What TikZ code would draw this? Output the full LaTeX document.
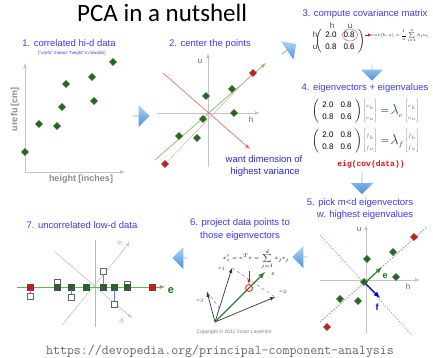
\documentclass[tikz,border=0pt]{standalone}
\usepackage{amsmath}
\usepackage{amssymb}
\usepackage{fontspec}
\setmainfont{Liberation Sans}
\newfontfamily\titlefont{Carlito}
\newfontfamily\codefont{Liberation Mono}
\usetikzlibrary{shapes.geometric,shapes.arrows}

\definecolor{lblblue}{RGB}{60,60,235}
\definecolor{darkblue}{RGB}{40,40,210}
\definecolor{ptgreen}{RGB}{25,110,25}
\definecolor{ptred}{RGB}{220,20,20}
\definecolor{axgray}{RGB}{195,195,195}
\definecolor{lightgreen}{RGB}{130,200,110}
\definecolor{lightred}{RGB}{235,110,110}
\definecolor{arrowlight}{RGB}{175,212,245}
\definecolor{arrowdark}{RGB}{75,145,220}

\tikzset{
  ttl/.style={text=lblblue, font=\fontsize{9.5}{11}\selectfont, inner sep=0pt},
  gdot/.style={shape=rectangle, rotate=45, draw=black!60, fill=ptgreen, minimum size=5pt, inner sep=0pt},
  rdot/.style={gdot, fill=ptred},
  gsq/.style={shape=rectangle, draw=black!70, fill=ptgreen, minimum size=5.5pt, inner sep=0pt},
  rsq/.style={gsq, fill=ptred},
  osq/.style={shape=rectangle, draw=black!60, fill=white, minimum size=5.5pt, inner sep=0pt},
  axis/.style={draw=axgray, line width=0.7pt, ->},
  axlbl/.style={text=black!60, font=\fontsize{8}{9}\selectfont, inner sep=0pt},
  bigarrow/.style={single arrow, draw=none, inner sep=0pt, minimum height=17pt, minimum width=22pt, single arrow head extend=5pt, top color=arrowlight, bottom color=arrowdark},
  mat/.style={font=\fontsize{8}{12}\selectfont\setlength{\arraycolsep}{3.5pt}, inner sep=0pt},
  vec/.style={font=\fontsize{4}{12}\selectfont, inner sep=0pt, text=black!60},
}

\begin{document}
\begin{tikzpicture}[x=1pt, y=-1pt, >=latex]
\useasboundingbox[fill=white] (0,0) rectangle (433,358);

\node[font=\titlefont\fontsize{25}{30}\selectfont, inner sep=0pt, anchor=base west] (title) at (77,22) {PCA in a nutshell};

% 1. correlated data
\node[ttl] (t1) at (69,43) {1. correlated hi-d data};
\node[text=lblblue, font=\fontsize{4.5}{5}\selectfont, inner sep=0pt] (t1b) at (72,53) {(``urefu'' means ``height'' in Swahili)};
\coordinate (o1) at (25,172);
\coordinate (y1) at (25,63);
\coordinate (x1) at (125,172);
\draw[axis] (o1) -- (y1);
\draw[axis] (o1) -- (x1);
\node[text=black!45, font=\bfseries\fontsize{9}{10}\selectfont, inner sep=0pt] (xl1) at (81,179) {height [inches]};
\node[text=black!45, font=\bfseries\fontsize{9}{10}\selectfont, inner sep=0pt, rotate=90] (yl1) at (15,109) {urefu [cm]};
\node[gdot] (a1) at (113,62) {};
\node[gdot] (a2) at (92,77) {};
\node[gdot] (a3) at (66,84) {};
\node[gdot] (a4) at (94,101) {};
\node[gdot] (a5) at (62,107) {};
\node[gdot] (a6) at (39,124) {};
\node[gdot] (a7) at (57,126) {};
\node[gdot] (a8) at (25,152) {};

\node[bigarrow] (ar12) at (141,116) {};

% 2. center the points
\node[ttl] (t2) at (210,44) {2. center the points};
\draw[axis] (208,167) -- (208,53);
\draw[axis] (157,113) -- (260,113);
\node[axlbl] (u2) at (200,61) {u};
\node[axlbl] (h2) at (251,120) {h};
\coordinate (g2a) at (155,160);
\coordinate (g2b) at (266,63);
\coordinate (r2a) at (163,73);
\coordinate (r2b) at (250,149);
\draw[lightgreen, line width=0.8pt, ->] (g2a) -- (g2b);
\draw[lightred, line width=0.7pt, ->] (r2a) -- (r2b);
\node[rdot] (b1) at (253,73) {};
\node[rdot] (b8) at (165,164) {};
\draw[lightred!60, line width=0.5pt] (b8) -- (b1);
\node[gdot] (b2) at (232,89) {};
\node[gdot] (b3) at (206,96) {};
\node[gdot] (b4) at (234,113) {};
\node[gdot] (b5) at (203,119) {};
\node[gdot] (b6) at (179,136) {};
\node[gdot] (b7) at (197,138) {};
\node[ttl, text=darkblue] (w1) at (264,159) {want dimension of};
\node[ttl, text=darkblue] (w2) at (265,172) {highest variance};

\node[bigarrow, rotate=35] (ar23) at (289,49) {};

% 3. covariance matrix
\node[ttl] (t3) at (365,14) {3. compute covariance matrix};
\node[mat] (cm) at (340,41) {$\left(\begin{array}{cc}\text{2.0}&\text{0.8}\\\text{0.8}&\text{0.6}\end{array}\right)$};
\node[axlbl, text=black!75] (ch) at (332,26) {h};
\node[axlbl, text=black!75] (cu) at (350,26) {u};
\node[axlbl, text=black!75] (rh) at (315,35) {h};
\node[axlbl, text=black!75] (ru) at (315,47) {u};
\node[shape=ellipse, draw=ptred!80, minimum width=15pt, minimum height=12pt, inner sep=0pt] (c08) at (350,35) {};
\node[anchor=west, inner sep=0pt, font=\fontsize{5}{6}\selectfont] (cov) at (372,36) {\scalebox{0.78}{$\displaystyle cov(h,u)=\frac{1}{n}\sum_{i=1}^{n}h_iu_i$}};
\draw[ptred, ->] (cm.east |- c08) -- (cov.west |- c08);

\node[bigarrow, rotate=-90] (ar34) at (372,72) {};

% 4. eigenvectors + eigenvalues
\node[ttl] (t4) at (365,88) {4. eigenvectors + eigenvalues};
\node[mat] (m1) at (337,111) {$\left(\begin{array}{cc}\text{2.0}&\text{0.8}\\\text{0.8}&\text{0.6}\end{array}\right)$};
\node[vec] (ev1) at (370,111) {$\left[\begin{array}{@{}c@{}}e_h\\e_u\end{array}\right]$};
\node[font=\fontsize{11}{11}\selectfont, inner sep=0pt] (eq1) at (385,111) {$=$};
\node[text=ptgreen, font=\fontsize{15}{15}\selectfont, inner sep=0pt] (le) at (397,111) {$\lambda_{\scriptscriptstyle e}$};
\node[vec] (ev2) at (412,111) {$\left[\begin{array}{@{}c@{}}e_h\\e_u\end{array}\right]$};
\node[mat] (m2) at (337,141) {$\left(\begin{array}{cc}\text{2.0}&\text{0.8}\\\text{0.8}&\text{0.6}\end{array}\right)$};
\node[vec] (fv1) at (370,141) {$\left[\begin{array}{@{}c@{}}f_h\\f_u\end{array}\right]$};
\node[font=\fontsize{11}{11}\selectfont, inner sep=0pt] (eq2) at (385,141) {$=$};
\node[text=black!80, font=\fontsize{15}{15}\selectfont, inner sep=0pt] (lf) at (397,141) {$\lambda_{\scriptscriptstyle f}$};
\node[vec] (fv2) at (412,141) {$\left[\begin{array}{@{}c@{}}f_h\\f_u\end{array}\right]$};
\node[text=ptred, font=\codefont\bfseries\fontsize{8}{9}\selectfont, inner sep=0pt] (eig) at (371,164) {eig(cov(data))};

\node[bigarrow, minimum height=24pt, rotate=-90] (ar45) at (362,182) {};

% 5. pick eigenvectors
\node[ttl] (t5a) at (360,203) {5. pick m<d eigenvectors};
\node[ttl] (t5b) at (365,215) {w. highest eigenvalues};
\draw[axis] (366,333) -- (366,225);
\draw[axis] (320,280) -- (420,280);
\node[axlbl] (u5) at (359,229) {u};
\node[axlbl] (h5) at (408,287) {h};
\coordinate (g5a) at (320,322);
\coordinate (g5b) at (427,227);
\coordinate (f5a) at (320,235);
\coordinate (f5b) at (412,335);
\draw[lightgreen!80!black, line width=0.7pt, dash pattern=on 1.5pt off 1.5pt] (g5a) -- (g5b);
\draw[lblblue!60, line width=0.6pt, dash pattern=on 1.5pt off 1.5pt] (f5a) -- (f5b);
\node[rdot] (c1) at (414,237) {};
\node[gdot] (c2) at (393,252) {};
\node[gdot] (c3) at (367,259) {};
\node[gdot] (c4) at (396,277) {};
\node[gdot] (c6) at (340,299) {};
\node[gdot] (c7) at (358,301) {};
\node[rdot] (c8) at (327,327) {};
\coordinate (o5) at (365,283);
\coordinate (e5) at (382,267);
\coordinate (f5) at (380,298);
\draw[ptgreen!85, line width=1.2pt, ->] (o5) -- (e5);
\draw[blue!80!black, line width=1.2pt, ->] (o5) -- (f5);
\node[gdot] (c5) at (364,282) {};
\node[text=ptgreen, font=\bfseries\fontsize{9}{10}\selectfont, inner sep=0pt] (el5) at (385,276) {e};
\node[text=blue!80!black, font=\bfseries\fontsize{9}{10}\selectfont, inner sep=0pt] (fl5) at (377,307) {f};

\node[bigarrow, minimum height=15pt, rotate=180] (ar56) at (300,257) {};

% 6. project data points
\node[ttl] (t6a) at (240,223) {6. project data points to};
\node[ttl] (t6b) at (240,236) {those eigenvectors};
\node[inner sep=0pt, font=\fontsize{5.5}{6}\selectfont] (pf) at (256,259) {$\displaystyle x_i'=x^Te=\sum_{j=1}^{d}x_je_j$};
\coordinate (o6) at (215,322);
\coordinate (p1) at (232,268);
\coordinate (p2) at (275,297);
\coordinate (p3) at (207,292);
\coordinate (e6) at (265,272);
\draw[lblblue!70, dashed, line width=0.5pt] (p1) -- (p2);
\draw[lblblue!70, dashed, line width=0.5pt] (p3) -- (222,311);
\draw[black!80, line width=0.7pt, ->] (o6) -- (p1);
\draw[black!80, line width=0.7pt, ->] (o6) -- (p2);
\draw[black!80, line width=0.7pt, ->] (o6) -- (p3);
\draw[ptgreen!90, line width=1.3pt, ->] (o6) -- (e6);
\node[shape=circle, draw=ptred, line width=0.8pt, minimum size=7pt, inner sep=0pt] (pc) at (249,288) {};
\draw[ptred, line width=0.6pt, ->] (249,271) -- (pc.north);
\node[text=ptgreen, font=\fontsize{5}{5}\selectfont, inner sep=0pt] (el6) at (273,274) {e};
\node[text=lblblue, font=\fontsize{5}{5}\selectfont, inner sep=0pt] (x61) at (222,269) {$x_1$};
\node[text=lblblue, font=\fontsize{5}{5}\selectfont, inner sep=0pt] (x62) at (283,292) {$x_2$};
\node[text=lblblue, font=\fontsize{5}{5}\selectfont, inner sep=0pt] (x63) at (200,301) {$x_3$};
\node[text=black!50, font=\fontsize{5}{6}\selectfont, inner sep=0pt] (copy) at (234,332) {Copyright \textcopyright{} 2011 Victor Lavrenko};

\node[bigarrow, minimum height=15pt, rotate=180] (ar67) at (180,258) {};

% 7. uncorrelated low-d data
\node[ttl] (t7) at (82,225) {7. uncorrelated low-d data};
\draw[axgray, line width=0.6pt, ->] (55,252) -- (132,318);
\draw[axgray, line width=0.6pt, ->] (62,325) -- (130,242);
\node[text=lblblue!50, font=\fontsize{7}{7}\selectfont, inner sep=0pt, rotate=-135] (u7) at (120,243) {u};
\node[text=lblblue!50, font=\fontsize{7}{7}\selectfont, inner sep=0pt, rotate=-45] (h7) at (122,321) {h};
\draw[lblblue!40, line width=0.6pt] (95,240) -- (95,327);
\coordinate (l7a) at (17,287);
\coordinate (l7b) at (165,287);
\draw[lightgreen!85!black, line width=0.9pt, ->] (l7a) -- (l7b);
\node[text=ptgreen, font=\bfseries\fontsize{11}{11}\selectfont, inner sep=0pt] (el7) at (171,291) {e};
\node[osq] (q1) at (30,296) {};
\node[osq] (q2) at (57,282) {};
\node[osq] (q3) at (71,297) {};
\node[osq] (q5) at (103,271) {};
\node[osq] (q6) at (114,304) {};
\node[osq] (q7) at (127,284) {};
\node[rsq] (s1) at (30,287) {};
\node[gsq] (s2) at (57,287) {};
\node[gsq] (s3) at (71,287) {};
\node[gsq] (s4) at (86,287) {};
\node[gsq] (s5) at (103,287) {};
\node[gsq] (s6) at (114,287) {};
\node[gsq] (s7) at (127,287) {};
\node[rsq] (s8) at (152,287) {};
\draw[lblblue!70, line width=0.5pt] (q1) -- (s1);
\draw[lblblue!70, line width=0.5pt] (q3) -- (s3);
\draw[lblblue!70, line width=0.5pt] (q5) -- (s5);
\draw[lblblue!70, line width=0.5pt] (q6) -- (s6);

\node[text=black!60, font=\ttfamily\fontsize{13.5}{14}\selectfont, inner sep=0pt] (url) at (220,351) {https://devopedia.org/principal-component-analysis};
\end{tikzpicture}
\end{document}
